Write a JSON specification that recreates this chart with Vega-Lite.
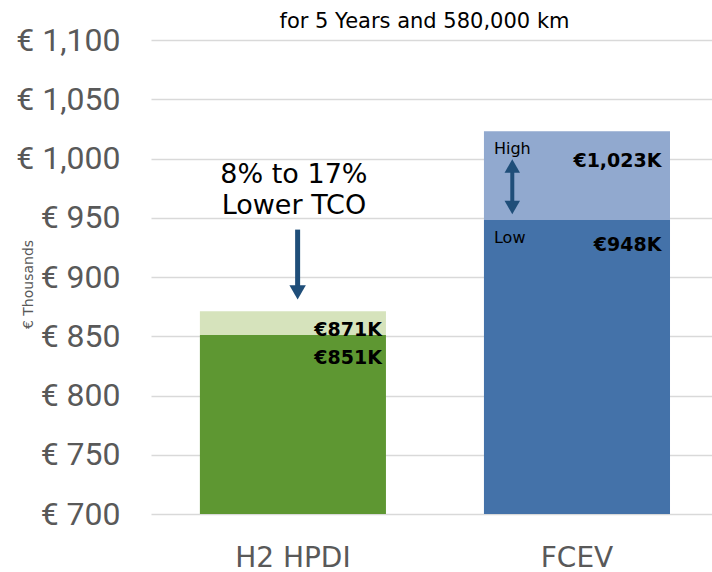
{
  "$schema": "https://vega.github.io/schema/vega-lite/v6.json",
  "width": 561,
  "height": 474,
  "autosize": {"type": "none"},
  "padding": {"left": 151, "top": 40, "right": 0, "bottom": 58},
  "background": "white",
  "title": {"text": "for 5 Years and 580,000 km", "font": "DejaVu Sans", "fontSize": 21, "fontWeight": "normal", "color": "#000000", "anchor": "middle", "baseline": "alphabetic", "offset": -25, "dx": -7},
  "config": {"view": {"stroke": null}},
  "datasets": {
    "bars": [
      {"vehicle": "H2 HPDI", "segment": "H2 low", "low": 700, "high": 851},
      {"vehicle": "H2 HPDI", "segment": "H2 high", "low": 851, "high": 871},
      {"vehicle": "FCEV", "segment": "FCEV low", "low": 700, "high": 948},
      {"vehicle": "FCEV", "segment": "FCEV high", "low": 948, "high": 1023}
    ],
    "h2labels": [
      {"vehicle": "H2 HPDI", "label": "€871K", "value": 855},
      {"vehicle": "H2 HPDI", "label": "€851K", "value": 831.5}
    ],
    "fcevlabels": [
      {"vehicle": "FCEV", "label": "€1,023K", "value": 997.5},
      {"vehicle": "FCEV", "label": "€948K", "value": 927}
    ],
    "rangelabels": [
      {"vehicle": "FCEV", "label": "High", "value": 1008},
      {"vehicle": "FCEV", "label": "Low", "value": 933}
    ],
    "note": [
      {"vehicle": "H2 HPDI", "label": "8% to 17%", "value": 986},
      {"vehicle": "H2 HPDI", "label": "Lower TCO", "value": 960}
    ],
    "h2arrow": [{"vehicle": "H2 HPDI", "from": 940, "to": 892}],
    "h2head": [{"vehicle": "H2 HPDI", "at": 887, "dir": "down"}],
    "fcevarrow": [{"vehicle": "FCEV", "from": 990, "to": 962}],
    "fcevheads": [
      {"vehicle": "FCEV", "at": 993.7, "dir": "up"},
      {"vehicle": "FCEV", "at": 958.6, "dir": "down"}
    ]
  },
  "layer": [
    {
      "data": {"name": "bars"},
      "mark": {"type": "bar"},
      "encoding": {
        "x": {
          "field": "vehicle", "type": "nominal",
          "scale": {"domain": ["H2 HPDI", "FCEV"], "paddingInner": 0.345, "paddingOuter": 0.16, "align": 0.538},
          "axis": {"title": null, "labelFont": "DejaVu Sans", "labelFontSize": 28, "labelColor": "#595959", "labelPadding": 30, "ticks": false, "tickSize": 0, "domain": false, "labelAngle": 0}
        },
        "y": {
          "field": "low", "type": "quantitative",
          "scale": {"domain": [700, 1100], "nice": false, "zero": false},
          "axis": {
            "title": "€ Thousands", "titleFont": "DejaVu Sans", "titleFontSize": 14, "titleFontWeight": "normal", "titleColor": "#595959",
            "titleX": -119, "titleY": 244, "titleBaseline": "alphabetic", "titleAngle": -90,
            "values": [700, 750, 800, 850, 900, 950, 1000, 1050, 1100],
            "labelExpr": "'€ ' + format(datum.value, ',')",
            "labelFont": "Roboto", "labelFontSize": 32, "labelColor": "#595959", "labelPadding": 31,
            "ticks": false, "tickSize": 0, "domain": false, "grid": true, "gridColor": "#D9D9D9", "gridWidth": 1.5
          }
        },
        "y2": {"field": "high"},
        "color": {
          "field": "segment", "type": "nominal",
          "scale": {"domain": ["H2 low", "H2 high", "FCEV low", "FCEV high"], "range": ["#5E9732", "#D6E3BC", "#4472A9", "#91A9CF"]},
          "legend": null
        }
      }
    },
    {
      "data": {"name": "h2labels"},
      "mark": {"type": "text", "align": "right", "baseline": "middle", "dx": 89, "font": "DejaVu Sans", "fontSize": 19, "fontWeight": "bold", "color": "#000000"},
      "encoding": {
        "x": {"field": "vehicle", "type": "nominal"},
        "y": {"field": "value", "type": "quantitative"},
        "text": {"field": "label"}
      }
    },
    {
      "data": {"name": "fcevlabels"},
      "mark": {"type": "text", "align": "right", "baseline": "middle", "dx": 84.5, "font": "DejaVu Sans", "fontSize": 19, "fontWeight": "bold", "color": "#000000"},
      "encoding": {
        "x": {"field": "vehicle", "type": "nominal"},
        "y": {"field": "value", "type": "quantitative"},
        "text": {"field": "label"}
      }
    },
    {
      "data": {"name": "rangelabels"},
      "mark": {"type": "text", "align": "left", "baseline": "middle", "dx": -83, "font": "DejaVu Sans", "fontSize": 16, "color": "#000000"},
      "encoding": {
        "x": {"field": "vehicle", "type": "nominal"},
        "y": {"field": "value", "type": "quantitative"},
        "text": {"field": "label"}
      }
    },
    {
      "data": {"name": "note"},
      "mark": {"type": "text", "align": "center", "baseline": "middle", "dx": 1, "font": "DejaVu Sans", "fontSize": 27, "color": "#000000"},
      "encoding": {
        "x": {"field": "vehicle", "type": "nominal"},
        "y": {"field": "value", "type": "quantitative"},
        "text": {"field": "label"}
      }
    },
    {
      "data": {"name": "h2arrow"},
      "mark": {"type": "rule", "strokeWidth": 5, "color": "#1F4E79", "xOffset": 4.7},
      "encoding": {
        "x": {"field": "vehicle", "type": "nominal"},
        "y": {"field": "from", "type": "quantitative"},
        "y2": {"field": "to"}
      }
    },
    {
      "data": {"name": "h2head"},
      "mark": {"type": "point", "filled": true, "opacity": 1, "size": 270, "color": "#1F4E79", "strokeWidth": 0, "xOffset": 4.7},
      "encoding": {
        "x": {"field": "vehicle", "type": "nominal"},
        "y": {"field": "at", "type": "quantitative"},
        "shape": {"field": "dir", "type": "nominal", "scale": {"domain": ["up", "down"], "range": ["triangle-up", "triangle-down"]}, "legend": null}
      }
    },
    {
      "data": {"name": "fcevarrow"},
      "mark": {"type": "rule", "strokeWidth": 4, "color": "#1F4E79", "xOffset": -64.7},
      "encoding": {
        "x": {"field": "vehicle", "type": "nominal"},
        "y": {"field": "from", "type": "quantitative"},
        "y2": {"field": "to"}
      }
    },
    {
      "data": {"name": "fcevheads"},
      "mark": {"type": "point", "filled": true, "opacity": 1, "size": 240, "color": "#1F4E79", "strokeWidth": 0, "xOffset": -64.7},
      "encoding": {
        "x": {"field": "vehicle", "type": "nominal"},
        "y": {"field": "at", "type": "quantitative"},
        "shape": {"field": "dir", "type": "nominal", "scale": {"domain": ["up", "down"], "range": ["triangle-up", "triangle-down"]}, "legend": null}
      }
    }
  ]
}
